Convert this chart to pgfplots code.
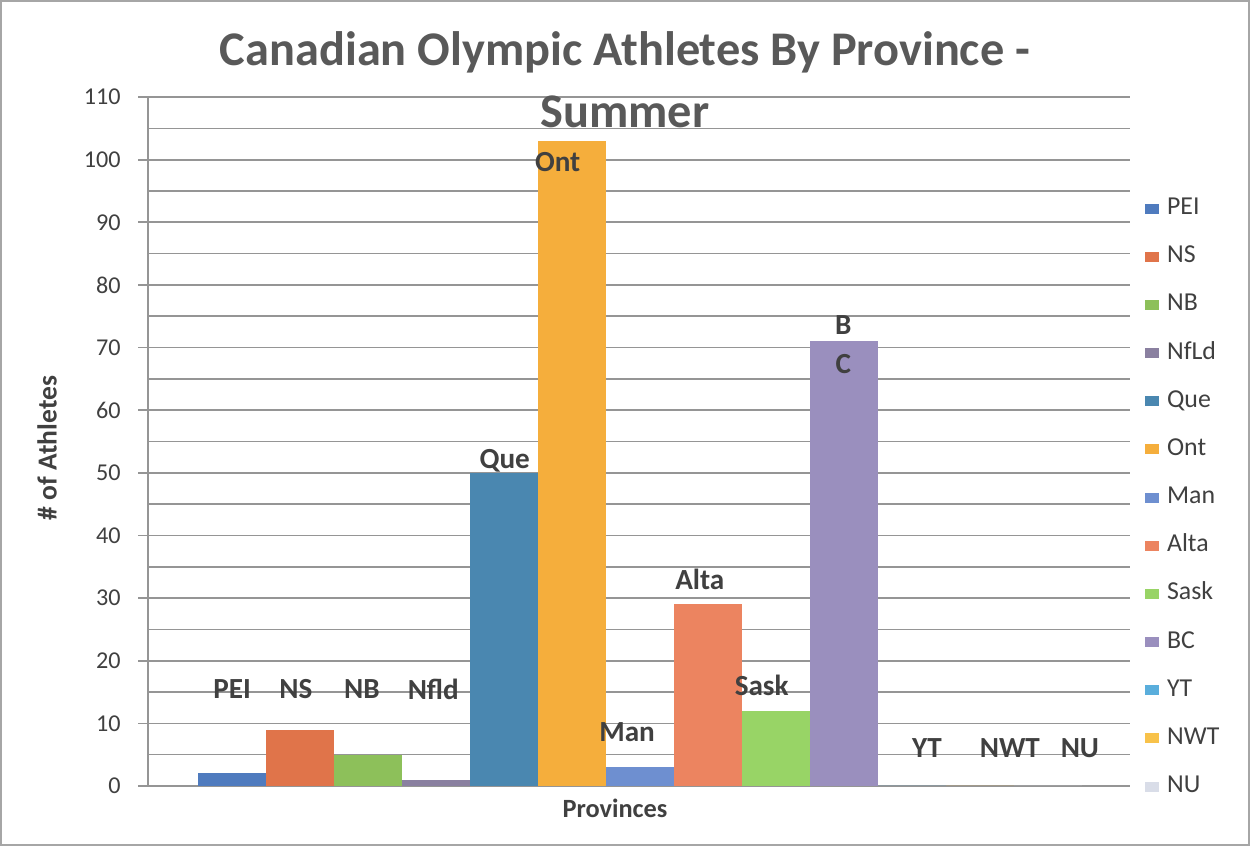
\documentclass[border=0pt]{standalone}
\usepackage{pgfplots}
\pgfplotsset{compat=1.18}
\usepackage{fontspec}
\setmainfont{Carlito}
\definecolor{cPEI}{HTML}{4F7BBE}
\definecolor{cNS}{HTML}{E0744A}
\definecolor{cNB}{HTML}{8DC05A}
\definecolor{cNfLd}{HTML}{8A80A0}
\definecolor{cQue}{HTML}{4A87B0}
\definecolor{cOnt}{HTML}{F5AE3C}
\definecolor{cMan}{HTML}{6E8FD0}
\definecolor{cAlta}{HTML}{EC8460}
\definecolor{cSask}{HTML}{98D466}
\definecolor{cBC}{HTML}{9A8FBE}
\definecolor{cYT}{HTML}{5AAEDC}
\definecolor{cNWT}{HTML}{F8C24A}
\definecolor{cNU}{HTML}{D9DDE8}
\definecolor{txt}{HTML}{404040}
\definecolor{ttl}{HTML}{595959}
\definecolor{grd}{HTML}{959595}
\begin{document}
\begin{tikzpicture}
% frame of the whole picture (1 px = 0.6pt)
\draw[line width=1.5pt, color=gray!70] (-88.1pt,-35.3pt) rectangle (660.5pt,470.9pt);
\begin{axis}[
  at={(0pt,0pt)}, anchor=south west,
  scale only axis,
  width=589.2pt, height=413.4pt,
  xmin=-1.235, xmax=13.206,
  ymin=0, ymax=110,
  ytick={0,10,...,110},
  minor y tick num=1,
  xtick=\empty,
  ymajorgrids, yminorgrids,
  major grid style={line width=1pt, color=grd},
  minor grid style={line width=1pt, color=grd},
  axis lines*=left,
  axis line style={line width=1pt, color=grd, -},
  tick align=outside,
  major tick length=6pt, minor tick length=0pt,
  tick style={line width=1pt, color=grd},
  y tick label style={font=\fontsize{14.5}{16}\selectfont, color=txt, xshift=-7pt},
  /pgf/number format/assume math mode=true,
  ybar, bar width=40.8pt, bar shift=0pt,
  every axis plot/.append style={draw=none},
  legend cell align=left,
  legend image code/.code={\fill[#1,draw=none] (0pt,-3pt) rectangle (8.4pt,3pt); \path (13.2pt,0pt);},
  legend style={at={(1.01,0.86)}, anchor=north west, draw=none, fill=none,
    font=\fontsize{15.5}{17}\selectfont, text=txt,
    nodes={inner sep=0pt, text height=10.5pt, text depth=3.3pt},
    row sep=15.1pt},
]
\addplot[fill=cPEI] coordinates {(0,2)};
\addlegendentry{PEI}
\addplot[fill=cNS] coordinates {(1,9)};
\addlegendentry{NS}
\addplot[fill=cNB] coordinates {(2,5)};
\addlegendentry{NB}
\addplot[fill=cNfLd] coordinates {(3,1)};
\addlegendentry{NfLd}
\addplot[fill=cQue] coordinates {(4,50)};
\addlegendentry{Que}
\addplot[fill=cOnt] coordinates {(5,103)};
\addlegendentry{Ont}
\addplot[fill=cMan] coordinates {(6,3)};
\addlegendentry{Man}
\addplot[fill=cAlta] coordinates {(7,29)};
\addlegendentry{Alta}
\addplot[fill=cSask] coordinates {(8,12)};
\addlegendentry{Sask}
\addplot[fill=cBC] coordinates {(9,71)};
\addlegendentry{BC}
\addplot[fill=cYT] coordinates {(10,0)};
\addlegendentry{YT}
\addplot[fill=cNWT] coordinates {(11,0)};
\addlegendentry{NWT}
\addplot[fill=cNU] coordinates {(12,0)};
\addlegendentry{NU}
% data labels
\begin{scope}[every node/.style={font=\fontsize{17.5}{19}\selectfont\bfseries, text=txt, inner sep=0pt}]
\node at (axis cs:0.00,15.4) {PEI};
\node at (axis cs:0.94,15.4) {NS};
\node at (axis cs:1.91,15.4) {NB};
\node at (axis cs:2.96,15.4) {Nfld};
\node at (axis cs:4.01,51.9) {Que};
\node at (axis cs:4.79,99.6) {Ont};
\node at (axis cs:5.81,8.6) {Man};
\node at (axis cs:6.88,33.0) {Alta};
\node at (axis cs:7.79,16.0) {Sask};
\node at (axis cs:8.99,73.6) {B};
\node at (axis cs:8.99,67.4) {C};
\node at (axis cs:10.22,6.1) {YT};
\node at (axis cs:11.44,6.1) {NWT};
\node at (axis cs:12.47,6.1) {NU};
\end{scope}
\end{axis}
% title and axis titles
\node[font=\fontsize{29}{33}\selectfont\bfseries, text=ttl] at (286.2pt,440.4pt) {Canadian Olympic Athletes By Province -};
\node[font=\fontsize{29}{33}\selectfont\bfseries, text=ttl] at (286.2pt,404.4pt) {Summer};
\node[font=\fontsize{16.5}{19}\selectfont\bfseries, text=txt, rotate=90] at (-60.6pt,202.8pt) {\# of Athletes};
\node[font=\fontsize{15.8}{18}\selectfont\bfseries, text=txt] at (280.2pt,-13.2pt) {Provinces};
\path[use as bounding box] (-88.8pt,-36pt) rectangle (661.2pt,471.6pt);
\end{tikzpicture}
\end{document}
